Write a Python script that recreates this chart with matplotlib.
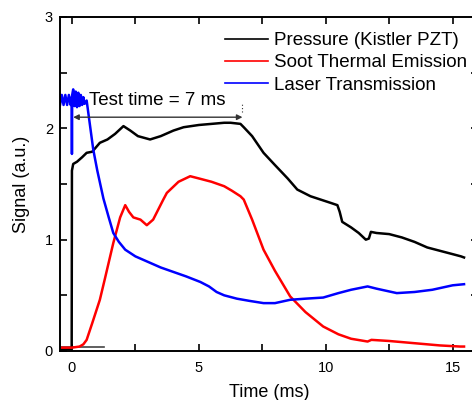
import matplotlib
matplotlib.use("Agg")
import matplotlib.pyplot as plt
from matplotlib.ticker import MultipleLocator

plt.rcParams['font.family'] = ['Liberation Sans', 'DejaVu Sans']

# ---------------- data ----------------
pressure_t = [-0.47, -0.2, -0.01, 0.0, 0.05, 0.2, 0.4, 0.58, 0.8, 1.1, 1.4, 1.7, 2.03, 2.3,
              2.6, 3.08, 3.5, 4.0, 4.4, 5.0, 5.5, 6.0, 6.25, 6.64, 6.77, 7.1, 7.55,
              8.0, 8.5, 8.88, 9.4, 9.8, 10.2, 10.46, 10.55, 10.65, 11.0, 11.3, 11.58,
              11.7, 11.78, 12.0, 12.5, 13.0, 13.5, 14.0, 14.5, 15.0, 15.33, 15.45]
pressure_v = [0.02, 0.02, 0.02, 1.62, 1.68, 1.70, 1.74, 1.78, 1.79, 1.87, 1.90, 1.95, 2.02, 1.98,
              1.93, 1.90, 1.93, 1.98, 2.01, 2.03, 2.04, 2.05, 2.05, 2.04, 2.01, 1.93, 1.78,
              1.67, 1.55, 1.45, 1.39, 1.36, 1.33, 1.31, 1.25, 1.16, 1.11, 1.06, 1.00,
              1.01, 1.07, 1.06, 1.05, 1.02, 0.98, 0.93, 0.90, 0.87, 0.85, 0.84]

soot_t = [-0.47, 0.0, 0.3, 0.45, 0.58, 0.8, 1.1, 1.3, 1.63, 1.9, 2.1, 2.25, 2.42, 2.7,
          2.95, 3.2, 3.6, 3.74, 4.2, 4.66, 5.0, 5.5, 6.0, 6.3, 6.64, 6.77, 7.1,
          7.55, 8.0, 8.6, 9.2, 9.9, 10.5, 11.0, 11.65, 11.8, 12.5, 13.5, 14.5, 15.3, 15.45]
soot_v = [0.03, 0.03, 0.04, 0.06, 0.10, 0.25, 0.46, 0.65, 0.97, 1.20, 1.31, 1.25, 1.20, 1.18,
          1.13, 1.18, 1.36, 1.42, 1.52, 1.57, 1.55, 1.52, 1.48, 1.44, 1.39, 1.36, 1.18,
          0.91, 0.72, 0.49, 0.35, 0.22, 0.15, 0.11, 0.085, 0.10, 0.09, 0.07, 0.05, 0.04, 0.04]

laser_t = [-0.47, -0.4, -0.33, -0.26, -0.19, -0.12, -0.05, -0.01, 0.0, 0.01, 0.05, 0.1,
           0.15, 0.2, 0.25, 0.3, 0.35, 0.4, 0.45, 0.5, 0.58, 0.84, 1.0, 1.24, 1.45,
           1.63, 1.85, 2.1, 2.5, 3.1, 3.5, 4.0, 4.5, 5.06, 5.4, 5.7, 6.0, 6.5, 7.0,
           7.55, 8.0, 8.6, 9.2, 9.9, 10.5, 11.0, 11.65, 12.0, 12.8, 13.5, 14.2, 15.0, 15.45]
laser_v = [2.21, 2.30, 2.21, 2.30, 2.21, 2.30, 2.21, 2.28, 1.77, 2.30, 2.35, 2.20, 2.33,
           2.19, 2.32, 2.20, 2.30, 2.21, 2.28, 2.22, 2.25, 1.81, 1.62, 1.37, 1.20,
           1.06, 0.98, 0.91, 0.85, 0.79, 0.75, 0.71, 0.67, 0.62, 0.58, 0.53, 0.50, 0.47, 0.45,
           0.43, 0.43, 0.46, 0.47, 0.48, 0.52, 0.55, 0.58, 0.56, 0.52, 0.53, 0.55, 0.59, 0.60]

baseline_t = [-0.47, 1.25]
baseline_v = [0.04, 0.04]

series_labels = ["Pressure (Kistler PZT)", "Soot Thermal Emission", "Laser Transmission"]
series_colors = ["black", "red", "blue"]

test_start, test_end = 0.05, 6.72
annotation = "Test time = 7 ms"

# ---------------- figure ----------------
fig = plt.figure(figsize=(4.72, 4.0), dpi=100)
ax = fig.add_axes([60/472, 49/400, 418/472, 334/400])

ax.plot(baseline_t, baseline_v, color="#444444", lw=1.2, zorder=1)
ax.plot(pressure_t, pressure_v, color=series_colors[0], lw=1.8, label=series_labels[0])
ax.plot(soot_t, soot_v, color=series_colors[1], lw=1.8, label=series_labels[1])
ax.plot(laser_t, laser_v, color=series_colors[2], lw=1.8, label=series_labels[2])

# test time arrow
ax.annotate("", xy=(test_start, 2.1), xytext=(test_end, 2.1),
            arrowprops=dict(arrowstyle="<|-|>", color="#333333", lw=1.0,
                            mutation_scale=8, shrinkA=0, shrinkB=0))
ax.plot([test_end, test_end], [2.15, 2.23], color="#333333", lw=0.8, ls=(0, (1, 2)))
ax.text(0.67, 2.25, annotation, fontsize=13.5, va="center", ha="left")

ax.set_xlim(-0.47, 16.0)
ax.set_ylim(0, 3)
ax.xaxis.set_major_locator(MultipleLocator(5))
ax.xaxis.set_minor_locator(MultipleLocator(2.5))
ax.yaxis.set_major_locator(MultipleLocator(1))
ax.yaxis.set_minor_locator(MultipleLocator(0.5))
ax.tick_params(which="both", direction="in", top=True, right=True, length=5,
               width=1.2, labelsize=10.5)
ax.tick_params(axis="x", pad=7)
ax.tick_params(axis="y", pad=5)
for s in ax.spines.values():
    s.set_linewidth(1.4)

ax.set_xlabel("Time (ms)", fontsize=13, labelpad=7)
ax.set_ylabel("Signal (a.u.)", fontsize=13, labelpad=11)

leg = ax.legend(loc="upper right", bbox_to_anchor=(1.0096, 1.0), frameon=False,
                fontsize=13.5, handlelength=2.3, handletextpad=0.3,
                labelspacing=0.27, borderaxespad=0.4)
for l in leg.get_lines():
    l.set_linewidth(1.2)

fig.savefig("out.png", dpi=100)
